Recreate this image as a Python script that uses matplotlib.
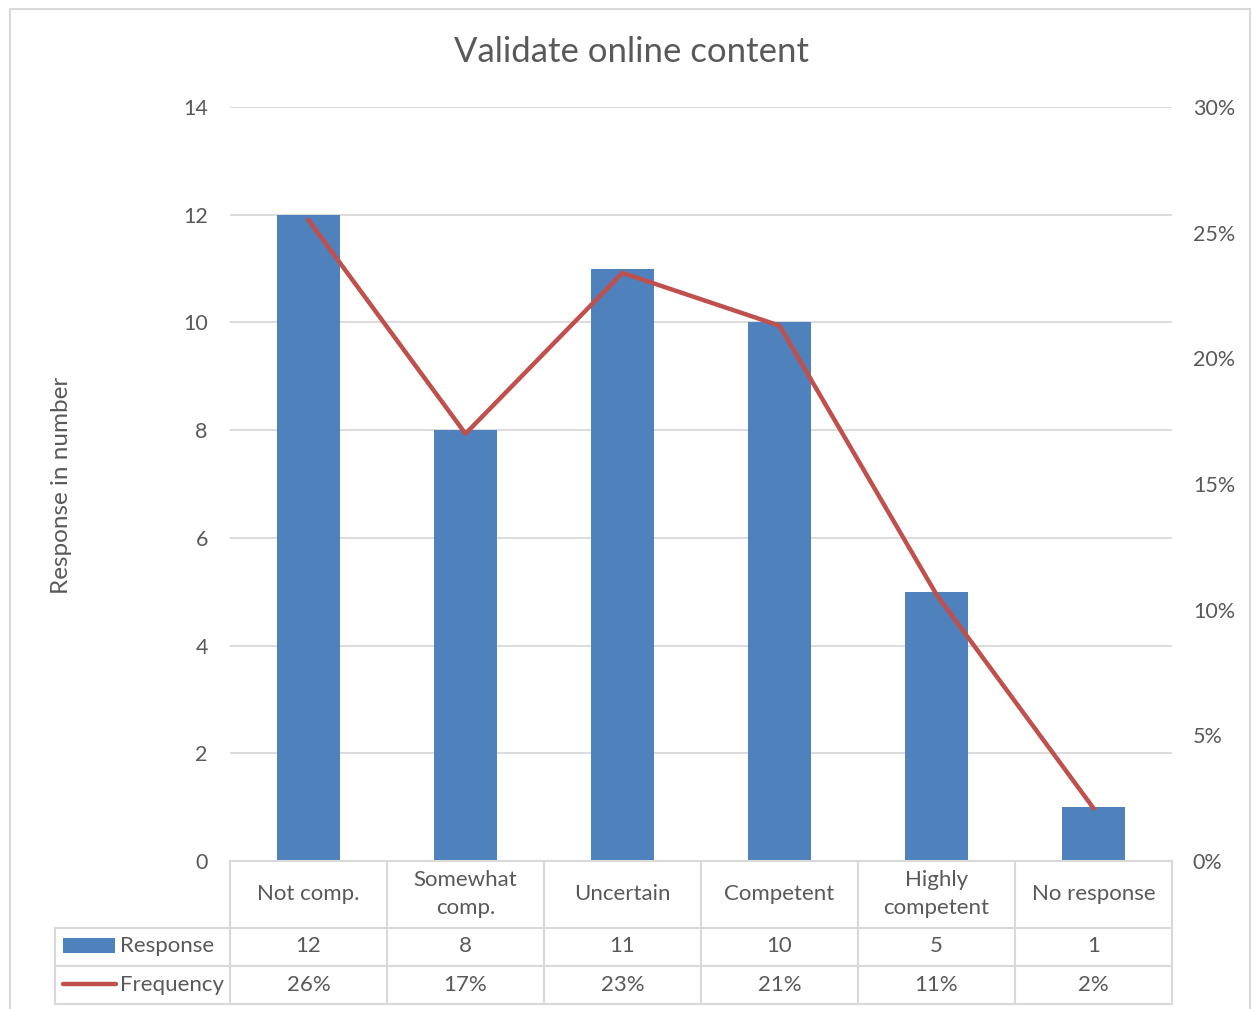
import matplotlib.pyplot as plt
from matplotlib.lines import Line2D
from matplotlib.patches import Rectangle
from matplotlib.transforms import blended_transform_factory
from matplotlib.ticker import FuncFormatter

# data
categories = ["Not comp.", "Somewhat\ncomp.", "Uncertain", "Competent",
              "Highly\ncompetent", "No response"]
responses = [12, 8, 11, 10, 5, 1]
frequency = [25.5, 17.0, 23.4, 21.3, 10.6, 2.1]  # percent

BLUE = "#4F81BD"
RED = "#C0504D"
TEXT = "#595959"
GRID = "#D9D9D9"

plt.rcParams["font.family"] = ["Lato", "DejaVu Sans"]

W, H = 1252, 1009
fig = plt.figure(figsize=(W / 100, H / 100), dpi=100)


def fx(x):
    return x / W


def fy(y):
    return 1 - y / H


# plot area in pixels: left 230, right 1172, top 107, bottom 861
ax = fig.add_axes([fx(230), fy(861), fx(1172 - 230), (861 - 107) / H])
xs = list(range(len(categories)))
ax.bar(xs, responses, width=0.4, color=BLUE, zorder=2)
ax.set_xlim(-0.5, len(categories) - 0.5)
ax.set_ylim(0, 14)
ax.set_yticks(range(0, 15, 2))
ax.set_xticks([])
ax.grid(axis="y", color=GRID, linewidth=1.3, zorder=0)
for s in ax.spines.values():
    s.set_visible(False)
ax.tick_params(axis="y", length=0, pad=16, labelsize=15.5, labelcolor=TEXT)

ax2 = ax.twinx()
ax2.plot(xs, frequency, color=RED, linewidth=3.2, zorder=3)
ax2.set_ylim(0, 30)
ax2.set_yticks(range(0, 31, 5))
ax2.yaxis.set_major_formatter(FuncFormatter(lambda v, p: f"{v:.0f}%"))
for s in ax2.spines.values():
    s.set_visible(False)
ax2.tick_params(axis="y", length=0, pad=15, labelsize=15.5, labelcolor=TEXT)

# title and axis label
fig.text(fx(631), fy(52), "Validate online content", ha="center", va="center",
         fontsize=25, color=TEXT)
fig.text(fx(62), fy(485), "Response in number", ha="center", va="center",
         rotation=90, fontsize=17.5, color=TEXT)

# data table
tb = blended_transform_factory(ax.transData, fig.transFigure)
edges = [i - 0.5 for i in range(len(categories) + 1)]
line_kw = dict(color=GRID, linewidth=1.5, transform=fig.transFigure)
x0 = ax.transData.transform((edges[0], 0))[0] / W
x1 = ax.transData.transform((edges[-1], 0))[0] / W
fig.add_artist(Line2D([x0, x1], [fy(861), fy(861)], **line_kw))
for yy in (928, 966, 1004):
    fig.add_artist(Line2D([fx(55), x1], [fy(yy), fy(yy)], **line_kw))
fig.add_artist(Line2D([fx(55), fx(55)], [fy(928), fy(1004)], **line_kw))
for e in edges:
    fig.add_artist(Line2D([e, e], [fy(861), fy(1004)], color=GRID,
                          linewidth=1.5, transform=tb))

for i, cat in enumerate(categories):
    fig.text(i, fy(894), cat, transform=tb, ha="center", va="center",
             fontsize=16, color=TEXT, linespacing=1.5)
    fig.text(i, fy(946), str(responses[i]), transform=tb, ha="center",
             va="center", fontsize=16, color=TEXT)
    fig.text(i, fy(985), f"{frequency[i]:.0f}%", transform=tb, ha="center",
             va="center", fontsize=16, color=TEXT)

# legend keys in the table
fig.add_artist(Rectangle((fx(63), fy(953)), fx(115 - 63), (953 - 938) / H,
                         facecolor=BLUE, edgecolor="none",
                         transform=fig.transFigure))
fig.add_artist(Line2D([fx(63), fx(116)], [fy(984), fy(984)], color=RED,
                      linewidth=3.2, solid_capstyle="round",
                      transform=fig.transFigure))
fig.text(fx(120), fy(946), "Response", ha="left", va="center", fontsize=16,
         color=TEXT)
fig.text(fx(120), fy(985), "Frequency", ha="left", va="center", fontsize=16,
         color=TEXT)

# chart frame
fig.add_artist(Rectangle((fx(10), fy(1020)), fx(1250 - 10), (1020 - 9) / H,
                         facecolor="none", edgecolor=GRID, linewidth=1.5,
                         transform=fig.transFigure))

fig.savefig("out.png", dpi=100)
